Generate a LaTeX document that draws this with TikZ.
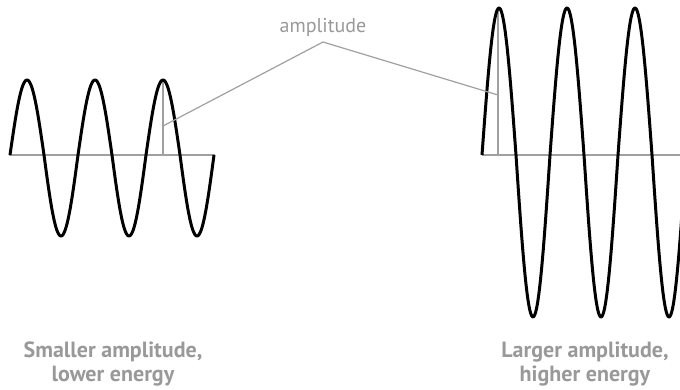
\documentclass[tikz,border=0pt]{standalone}
\usepackage{fontspec}
\setmainfont{PT Sans}
\usetikzlibrary{positioning}
\definecolor{labelgray}{HTML}{999999}
\definecolor{linegray}{HTML}{A0A0A0}
\tikzset{
wave/.style={line width=3pt,black,line join=round},
axisline/.style={line width=2pt,linegray},
marker/.style={line width=1.5pt,linegray},
pointer/.style={line width=1.2pt,linegray},
tagtext/.style={font=\fontsize{20}{24}\selectfont,text=labelgray,inner sep=0pt},
captext/.style={font=\fontsize{22}{24}\selectfont\bfseries,text=labelgray,align=center,inner sep=0pt}
}

\begin{document}
\begin{tikzpicture}[x=1pt,y=-1pt]
\useasboundingbox (0,0) rectangle (680,390);
\begin{scope}
\clip (0,0) rectangle (680,390);
% small wave
\coordinate (sa) at (9,155);
\coordinate (sb) at (215,155);
\draw[axisline] (sa) -- (sb);
\coordinate (sfoot) at (163,155);
\coordinate (stop) at (163,80);
\draw[marker] (sfoot) -- (stop);
\draw[wave] plot[domain=0:204,samples=240,smooth]
  ({10+\x},{155-(sin(\x/68*360)>0 ? 75 : 81)*sin(\x/68*360)});
% large wave
\coordinate (la) at (482,155);
\coordinate (lb) at (680,155);
\draw[axisline] (la) -- (lb);
\coordinate (lfoot) at (498,155);
\coordinate (ltop) at (498,8);
\draw[marker] (lfoot) -- (ltop);
\draw[wave] plot[domain=0:204,samples=240,smooth]
  ({482+\x},{155-(sin(\x/68*360)>0 ? 147 : 162)*sin(\x/68*360)});
\end{scope}
% amplitude label
\node[tagtext] (amp) at (323,27) {amplitude};
\coordinate (apex) at (323,42);
\coordinate (send) at (163,126);
\coordinate (lend) at (498,95);
\draw[pointer] (send) -- (apex) -- (lend);
% captions
\node[captext] (smallcap) at (113,364) {Smaller amplitude,\\lower energy};
\node[captext] (largecap) at (585,364) {Larger amplitude,\\higher energy};
\end{tikzpicture}
\end{document}
